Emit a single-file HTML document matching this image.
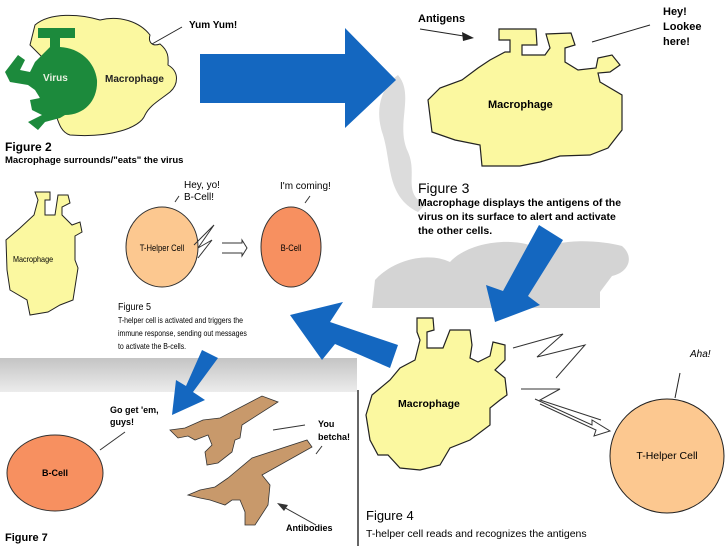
<!DOCTYPE html>
<html><head><meta charset="utf-8"><style>
html,body{margin:0;padding:0;background:#fff}
svg{display:block}
text{font-family:"Liberation Sans",sans-serif}
</style></head><body>
<svg width="728" height="546" viewBox="0 0 728 546" xmlns="http://www.w3.org/2000/svg">
<defs>
<linearGradient id="band" x1="0" y1="0" x2="0" y2="1">
<stop offset="0" stop-color="#c4c4c4"/><stop offset="1" stop-color="#ececec"/></linearGradient>
</defs>
<rect width="728" height="546" fill="#fff"/>
<!-- gray decorative -->
<path d="M398 75 C415 95 395 125 408 152 C418 175 402 192 425 205 L418 212 C385 196 392 160 382 132 C374 105 384 85 398 75Z" fill="#dcdcdc"/>
<path d="M372 308 L375 280 C395 258 430 252 450 262 C470 240 520 236 540 250 C560 238 600 240 622 246 C634 256 630 272 612 276 L600 292 L600 308 Z" fill="#d4d4d4"/>
<rect x="0" y="358" width="360" height="34" fill="url(#band)"/>
<rect x="357" y="308" width="371" height="238" fill="#fff"/>
<line x1="358" y1="390" x2="358" y2="546" stroke="#333" stroke-width="1.5"/>
<rect x="0" y="392" width="357" height="154" fill="#fff"/>

<!-- Fig 2 -->
<path d="M35 25 C50 12 80 14 100 20 C120 15 140 22 150 35 C148 42 152 47 160 44 C170 52 168 60 168 65 C180 72 178 85 170 92 C160 100 150 105 145 115 C140 128 110 138 70 135 C60 132 58 120 55 112 L40 100 L45 60 L30 45 Z" fill="#fbf8a0" stroke="#222" stroke-width="1"/>
<path d="M38 28 L75 28 L75 38 L60 38 L60 47 C80 48 95 62 97 80 C98 100 85 115 65 115 L60 118 L45 122 L38 130 L28 122 L42 115 L32 110 L30 100 L40 98 L35 90 L28 85 L10 82 L5 72 L18 55 L25 60 L20 70 L30 72 L35 62 L45 52 L50 47 L50 38 L38 38Z" fill="#1c8a3c"/>
<text x="43" y="81" font-size="10" font-weight="bold" fill="#e8f0e0">Virus</text>
<text x="105" y="82" font-size="10" font-weight="bold" fill="#222">Macrophage</text>
<line x1="152" y1="44" x2="182" y2="27" stroke="#222"/>
<text x="189" y="28" font-size="10" font-weight="bold">Yum  Yum!</text>
<text x="5" y="151" font-size="12" font-weight="bold">Figure 2</text>
<text x="5" y="163" font-size="9.5" font-weight="bold">Macrophage surrounds/"eats" the virus</text>
<!-- big arrow -->
<polygon points="200,54 345,54 345,28 396,80 345,128 345,103 200,103" fill="#1467c0"/>

<!-- Fig 3 -->
<path d="M490 60 L505 52 L510 52 L510 40 L499 40 L499 29 L536 29 L537 45 L522 45 L522 55 L545 55 L550 48 L546 34 L571 33 L575 45 L565 48 L565 62 L578 70 L596 68 L598 58 L612 55 L620 65 L610 72 L598 73 L600 82 L622 95 L622 130 L608 148 L590 155 L560 156 L540 162 L520 166 L482 166 L480 145 L455 140 L432 132 L428 100 L440 88 L462 80 L478 68 Z" fill="#fbf8a0" stroke="#222" stroke-width="1.2"/>
<text x="488" y="108" font-size="11" font-weight="bold">Macrophage</text>
<text x="418" y="22" font-size="11" font-weight="bold">Antigens</text>
<line x1="420" y1="29" x2="470" y2="37" stroke="#222"/>
<polygon points="474,38 462,32 463,41" fill="#222"/>
<line x1="592" y1="42" x2="650" y2="25" stroke="#222"/>
<text x="663" y="15" font-size="11" font-weight="bold" font-family="Liberation Mono,monospace">Hey!</text>
<text x="663" y="30" font-size="11" font-weight="bold" font-family="Liberation Mono,monospace">Lookee</text>
<text x="663" y="45" font-size="11" font-weight="bold" font-family="Liberation Mono,monospace">here!</text>
<text x="418" y="193" font-size="14">Figure 3</text>
<text x="418" y="206" font-size="10.5" font-weight="bold">Macrophage displays the antigens of the</text>
<text x="418" y="220" font-size="10.5" font-weight="bold">virus on its surface to alert and activate</text>
<text x="418" y="234" font-size="10.5" font-weight="bold">the other cells.</text>
<!-- arrow 3->4 -->
<polygon points="539,225 563,240 528,296 540,305 495,322 486,285 503,291" fill="#1467c0"/>

<!-- Fig 5 -->
<path d="M35 192 L50 192 L50 200 L45 200 L45 215 L55 215 L58 195 L68 195 L70 203 L62 207 L62 215 L72 225 L80 222 L82 232 L75 236 L75 260 L78 268 L73 300 L60 305 L48 312 L30 315 L27 300 L10 290 L7 270 L6 240 L20 228 L34 215 L38 200Z" fill="#fbf8a0" stroke="#222" stroke-width="1"/>
<text x="13" y="262" font-size="8.5" transform="scale(0.85 1)" transform-origin="13 262">Macrophage</text>
<ellipse cx="162" cy="247" rx="36" ry="40" fill="#fcc890" stroke="#333"/>
<text x="162" y="251" font-size="9" text-anchor="middle" transform="scale(0.85 1)" transform-origin="162 251">T-Helper Cell</text>
<ellipse cx="291" cy="247" rx="30" ry="40" fill="#f79060" stroke="#333"/>
<text x="291" y="251" font-size="9" text-anchor="middle" transform="scale(0.85 1)" transform-origin="291 251">B-Cell</text>
<polyline points="194,245 214,225 198,248 212,240 198,258" fill="none" stroke="#333"/>
<path d="M222 243 L242 243 L242 240 L247 248 L242 256 L242 253 L222 253" fill="none" stroke="#333"/>
<text x="184" y="188" font-size="10" font-family="Liberation Serif,serif">Hey, yo!</text>
<text x="184" y="200" font-size="10" font-family="Liberation Serif,serif">B-Cell!</text>
<line x1="175" y1="202" x2="179" y2="196" stroke="#333"/>
<text x="280" y="189" font-size="10" font-family="Liberation Serif,serif">I'm coming!</text>
<line x1="305" y1="203" x2="310" y2="196" stroke="#333"/>
<text x="118" y="310" font-size="10" transform="scale(0.9 1)" transform-origin="118 310">Figure 5</text>
<text x="118" y="323" font-size="8.5" transform="scale(0.82 1)" transform-origin="118 323">T-helper cell is activated and triggers the</text>
<text x="118" y="336" font-size="8.5" transform="scale(0.82 1)" transform-origin="118 336">immune response, sending out messages</text>
<text x="118" y="349" font-size="8.5" transform="scale(0.82 1)" transform-origin="118 349">to activate the B-cells.</text>
<!-- arrow 4->5 -->
<polygon points="398,345 390,368 335,344 322,360 290,315 343,302 330,322" fill="#1467c0"/>

<!-- Fig 4 -->
<path d="M417 318 L433 318 L434 330 L427 332 L427 348 L443 348 L450 330 L470 330 L472 345 L470 358 L478 362 L490 356 L493 342 L505 345 L505 360 L495 370 L505 378 L507 395 L500 400 L490 408 L490 425 L470 440 L450 448 L440 465 L420 470 L400 468 L388 455 L378 455 L370 440 L366 415 L372 395 L390 380 L400 368 L415 360 L420 340 L417 332Z" fill="#fbf8a0" stroke="#222" stroke-width="1.2"/>
<text x="398" y="407" font-size="10.5" font-weight="bold">Macrophage</text>
<polyline points="513,348 563,334 537,357 585,345 556,378" fill="none" stroke="#333"/>
<polyline points="521,389 560,389 540,400 601,420" fill="none" stroke="#333"/>
<path d="M535 399 L592 425 L592 420 L610 431 L594 436 L596 430 L540 404" fill="#fff" stroke="#333"/>
<circle cx="667" cy="456" r="57" fill="#fcc890" stroke="#222"/>
<text x="667" y="459" font-size="10.5" text-anchor="middle">T-Helper Cell</text>
<text x="690" y="357" font-size="10" font-style="italic">Aha!</text>
<line x1="680" y1="373" x2="675" y2="398" stroke="#222"/>
<text x="366" y="520" font-size="13">Figure 4</text>
<text x="366" y="537" font-size="10.5">T-helper cell reads and recognizes the antigens</text>

<!-- arrow 5->7 -->
<polygon points="202,350 218,358 193,392 205,400 172,415 176,380 186,386" fill="#1467c0"/>

<!-- Fig 7 -->
<ellipse cx="55" cy="473" rx="48" ry="38" fill="#f79060" stroke="#333"/>
<text x="55" y="476" font-size="9" font-weight="bold" text-anchor="middle">B-Cell</text>
<line x1="100" y1="450" x2="125" y2="432" stroke="#333"/>
<text x="110" y="413" font-size="9" font-weight="bold">Go get 'em,</text>
<text x="110" y="425" font-size="9" font-weight="bold">guys!</text>
<path d="M170 430 L185 428 L203 420 L220 418 L262 396 L278 402 L242 425 L240 438 L235 440 L232 452 L218 463 L207 465 L205 452 L212 445 L208 435 L195 440 L188 436 L178 438Z" fill="#c8996b" stroke="#333" stroke-width="0.8"/>
<path d="M188 495 L200 490 L215 487 L228 478 L252 458 L307 440 L312 447 L262 475 L270 485 L268 505 L255 525 L245 525 L245 512 L240 500 L232 500 L225 505 L210 500 L200 498Z" fill="#c8996b" stroke="#333" stroke-width="0.8"/>
<line x1="273" y1="430" x2="305" y2="425" stroke="#333"/>
<text x="318" y="427" font-size="9" font-weight="bold">You</text>
<text x="318" y="440" font-size="9" font-weight="bold">betcha!</text>
<line x1="316" y1="454" x2="322" y2="446" stroke="#333"/>
<line x1="316" y1="525" x2="280" y2="505" stroke="#333"/>
<polygon points="277,503 288,505 284,511" fill="#333"/>
<text x="286" y="531" font-size="9" font-weight="bold">Antibodies</text>
<text x="5" y="541" font-size="11" font-weight="bold">Figure 7</text>
</svg>
</body></html>
